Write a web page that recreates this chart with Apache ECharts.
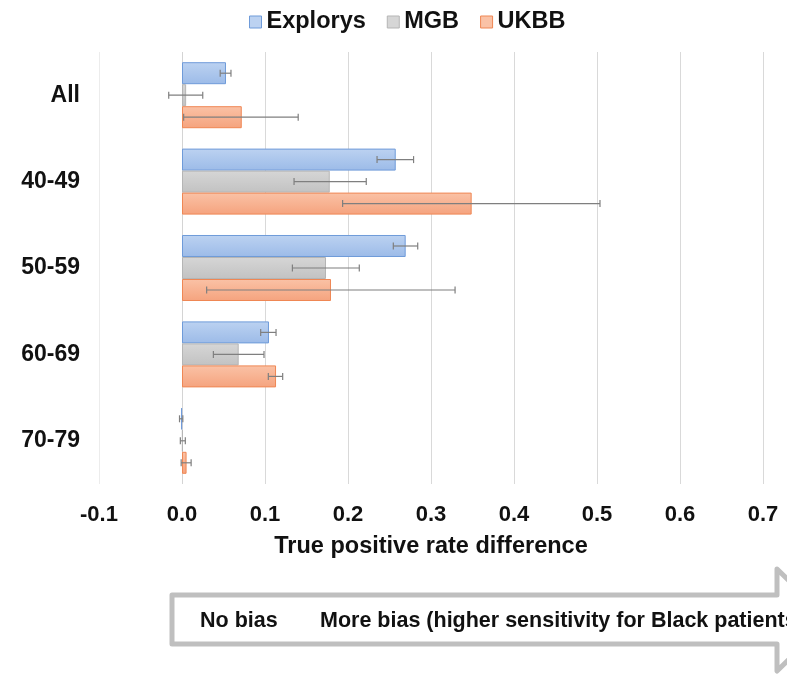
<!DOCTYPE html>
<html>
<head>
<meta charset="utf-8">
<script src="https://cdn.jsdelivr.net/npm/echarts@6/dist/echarts.min.js"></script>
<style>
html,body{margin:0;padding:0;background:#fff;}
#chart{width:787px;height:683px;}
</style>
</head>
<body>
<div id="chart"></div>
<script>
const categories = ['All', '40-49', '50-59', '60-69', '70-79'];
const seriesNames = ['Explorys', 'MGB', 'UKBB'];
const explorys = [0.053, 0.2575, 0.2695, 0.1048, -0.001];
const mgb = [0.005, 0.178, 0.1735, 0.0683, 0.001];
const ukbb = [0.072, 0.349, 0.1795, 0.1133, 0.0055];
const explorysErr = [[0.046, 0.059], [0.235, 0.279], [0.2546, 0.284], [0.0948, 0.1133], [-0.003, 0.001]];
const mgbErr = [[-0.016, 0.025], [0.135, 0.222], [0.133, 0.2136], [0.0378, 0.0988], [-0.002, 0.004]];
const ukbbErr = [[0.002, 0.14], [0.1935, 0.5036], [0.0297, 0.329], [0.104, 0.1213], [-0.001, 0.011]];
const xTicks = [-0.1, 0.0, 0.1, 0.2, 0.3, 0.4, 0.5, 0.6, 0.7];

const FONT = '"Liberation Sans", Arial, Helvetica, sans-serif';
const GAP = 0.236;

const fills = [
  {top: '#bcd2f1', bottom: '#9cbbe8', border: '#6f9bd9'},
  {top: '#d6d6d6', bottom: '#c2c2c2', border: '#b5b5b5'},
  {top: '#fac2a6', bottom: '#f5a37e', border: '#ef8754'}
];
const values = [explorys, mgb, ukbb];
const errs = [explorysErr, mgbErr, ukbbErr];

const chart = echarts.init(document.getElementById('chart'), null, {renderer: 'canvas'});

const series = [];
values.forEach((vals, i) => {
  series.push({
    name: seriesNames[i],
    type: 'bar',
    data: vals,
    barGap: '0%',
    barCategoryGap: (GAP * 100) + '%',
    itemStyle: {
      color: new echarts.graphic.LinearGradient(0, 0, 0, 1, [
        {offset: 0, color: fills[i].top},
        {offset: 1, color: fills[i].bottom}
      ]),
      borderColor: fills[i].border,
      borderWidth: 1
    },
    emphasis: {disabled: true},
    z: 2
  });
});
errs.forEach((e, i) => {
  series.push({
    name: seriesNames[i] + ' err',
    type: 'custom',
    data: e.map((d, k) => [d[0], d[1], k]),
    encode: {x: [0, 1], y: 2},
    z: 5,
    silent: true,
    renderItem: function (params, api) {
      const lo = api.coord([api.value(0), api.value(2)]);
      const hi = api.coord([api.value(1), api.value(2)]);
      const bandH = api.size([0, 1])[1];
      const barH = bandH * (1 - GAP) / 3;
      const y = lo[1] + (i - 1) * barH;
      const cap = 3.5;
      const st = {stroke: '#7f7f7f', lineWidth: 1.2};
      return {
        type: 'group',
        children: [
          {type: 'line', shape: {x1: lo[0], y1: y, x2: hi[0], y2: y}, style: st},
          {type: 'line', shape: {x1: lo[0], y1: y - cap, x2: lo[0], y2: y + cap}, style: st},
          {type: 'line', shape: {x1: hi[0], y1: y - cap, x2: hi[0], y2: y + cap}, style: st}
        ]
      };
    }
  });
});

const option = {
  animation: false,
  backgroundColor: '#fff',
  textStyle: {fontFamily: FONT},
  legend: {
    data: seriesNames.map((n, i) => ({
      name: n,
      itemStyle: {color: fills[i].top, borderColor: fills[i].border, borderWidth: 1}
    })),
    top: 10,
    left: 249,
    padding: 0,
    icon: 'rect',
    itemWidth: 12,
    itemHeight: 12,
    itemGap: 21,
    textStyle: {fontFamily: FONT, fontSize: 23.5, fontWeight: 'bold', color: '#111'},
    selectedMode: false
  },
  grid: {left: 99, right: 24, top: 52, bottom: 199, containLabel: false},
  xAxis: {
    type: 'value',
    min: -0.1,
    max: 0.7,
    interval: 0.1,
    name: 'True positive rate difference',
    nameLocation: 'middle',
    nameGap: 51,
    nameTextStyle: {fontFamily: FONT, fontSize: 23.5, fontWeight: 'bold', color: '#111'},
    axisLine: {show: false},
    axisTick: {show: false},
    axisLabel: {
      fontFamily: FONT, fontSize: 22, fontWeight: 'bold', color: '#111', margin: 20,
      formatter: function (v) {
        const idx = xTicks.findIndex(t => Math.abs(t - v) < 1e-9);
        return idx >= 0 ? xTicks[idx].toFixed(1) : '';
      }
    },
    splitLine: {show: true, lineStyle: {color: ['#ececec', '#d4d4d4', '#d9d9d9', '#d9d9d9', '#d9d9d9', '#d9d9d9', '#d9d9d9', '#d9d9d9', '#d9d9d9'], width: 1}}
  },
  yAxis: {
    type: 'category',
    data: categories,
    inverse: true,
    axisLine: {show: false, onZero: false},
    axisTick: {show: false},
    axisLabel: {fontFamily: FONT, fontSize: 23, fontWeight: 'bold', color: '#111', margin: 19}
  },
  series: series,
  graphic: [
    {
      type: 'polygon',
      shape: {points: [[172, 595], [777, 595], [777, 569], [829, 620], [777, 671], [777, 644], [172, 644]]},
      style: {fill: '#fff', stroke: '#bfbfbf', lineWidth: 5, lineJoin: 'round'},
      z: 1
    },
    {
      type: 'text', left: 200, top: 610,
      style: {text: 'No bias', font: 'bold 21.5px ' + FONT, fill: '#111'},
      z: 2
    },
    {
      type: 'text', left: 320, top: 610,
      style: {text: 'More bias (higher sensitivity for Black patients)', font: 'bold 21.5px ' + FONT, fill: '#111'},
      z: 2
    }
  ]
};
chart.setOption(option);
</script>
</body>
</html>
